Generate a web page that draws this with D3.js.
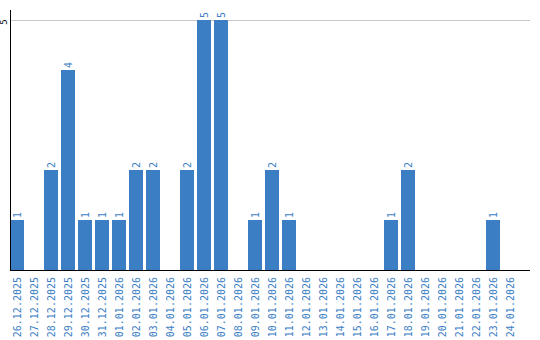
<!DOCTYPE html>
<html>
<head>
<meta charset="utf-8">
<script src="https://cdn.jsdelivr.net/npm/d3@7"></script>
<style>
  body { margin: 0; background: #fff; }
  svg { display: block; }
  text { font-family: "DejaVu Sans Mono", monospace; }
</style>
</head>
<body>
<div id="chart"></div>
<script>
const days = [
    '26.12.2025', '27.12.2025', '28.12.2025', '29.12.2025', '30.12.2025', '31.12.2025',
    '01.01.2026', '02.01.2026', '03.01.2026', '04.01.2026', '05.01.2026', '06.01.2026',
    '07.01.2026', '08.01.2026', '09.01.2026', '10.01.2026', '11.01.2026', '12.01.2026',
    '13.01.2026', '14.01.2026', '15.01.2026', '16.01.2026', '17.01.2026', '18.01.2026',
    '19.01.2026', '20.01.2026', '21.01.2026', '22.01.2026', '23.01.2026', '24.01.2026'
];
const counts = [1, 0, 2, 4, 1, 1, 1, 2, 2, 0, 2, 5, 5, 0, 1, 2, 1, 0, 0, 0, 0, 0, 1, 2, 0, 0, 0, 0, 1, 0];
const yTicks = [5];

const width = 540;
const height = 340;
const plotLeft = 10;
const plotTop = 20;
const plotBottom = 270;
const blue = '#3b7ec4';

const data = days.map((d, i) => ({ day: d, value: counts[i] }));

const svg = d3.select('#chart')
    .append('svg')
    .attr('width', width)
    .attr('height', height);

// band step 17px, bar 14px
const xScale = d3.scaleBand()
    .domain(days)
    .range([plotLeft, plotLeft + 17 * 30 - 3])
    .paddingInner(3 / 17)
    .paddingOuter(0);

const yScale = d3.scaleLinear().domain([0, 5]).range([plotBottom, plotTop]);

// gridline
svg.append('g')
    .selectAll('line')
    .data(yTicks)
    .join('line')
    .attr('x1', plotLeft)
    .attr('x2', 530)
    .attr('y1', d => yScale(d) + 0.5)
    .attr('y2', d => yScale(d) + 0.5)
    .attr('stroke', '#c8c8c8')
    .attr('stroke-width', 1);

// bars
svg.append('g')
    .selectAll('rect')
    .data(data.filter(d => d.value > 0))
    .join('rect')
    .attr('x', d => xScale(d.day))
    .attr('y', d => yScale(d.value))
    .attr('width', xScale.bandwidth())
    .attr('height', d => plotBottom - yScale(d.value))
    .attr('fill', blue);

// value labels
svg.append('g')
    .selectAll('text')
    .data(data.filter(d => d.value > 0))
    .join('text')
    .attr('transform', d => `translate(${xScale(d.day) + xScale.bandwidth() / 2 + 4},${yScale(d.value) - 2}) rotate(-90)`)
    .attr('font-size', 10)
    .attr('fill', blue)
    .text(d => d.value);

// axes lines
svg.append('line')
    .attr('x1', plotLeft + 0.5).attr('x2', plotLeft + 0.5)
    .attr('y1', 10).attr('y2', plotBottom)
    .attr('stroke', '#000');
svg.append('line')
    .attr('x1', plotLeft).attr('x2', 530)
    .attr('y1', plotBottom + 0.5).attr('y2', plotBottom + 0.5)
    .attr('stroke', '#000');

// y tick label
svg.append('g')
    .selectAll('text')
    .data(yTicks)
    .join('text')
    .attr('transform', d => `translate(7,${yScale(d) + 2}) rotate(-90)`)
    .attr('text-anchor', 'middle')
    .attr('font-size', 9)
    .attr('fill', '#000')
    .text(d => d);

// x labels
svg.append('g')
    .selectAll('text')
    .data(days)
    .join('text')
    .attr('transform', d => `translate(${xScale(d) + xScale.bandwidth() / 2 + 4},277) rotate(-90)`)
    .attr('text-anchor', 'end')
    .attr('font-size', 10)
    .attr('fill', blue)
    .text(d => d);
</script>
</body>
</html>
